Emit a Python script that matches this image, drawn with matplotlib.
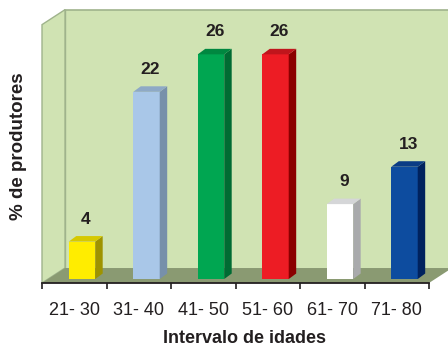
import matplotlib
matplotlib.use('Agg')
import matplotlib.pyplot as plt
from matplotlib.patches import Polygon

plt.rcParams['font.family'] = ['Liberation Sans', 'DejaVu Sans']

# Data: percentage of producers per age interval (23 producers)
categories = ['21- 30', '31- 40', '41- 50', '51- 60', '61- 70', '71- 80']
values = [4.35, 21.74, 26.09, 26.09, 8.70, 13.04]
labels = ['4', '22', '26', '26', '9', '13']

front_cols = ['#FFED00', '#A9C7E8', '#00A651', '#ED1C24', '#FFFFFF', '#0D4C9F']
side_cols = ['#9E9300', '#7790AA', '#006B33', '#8A0000', '#A9AAAC', '#00225E']
top_cols = ['#D6C900', '#8EA9C6', '#008740', '#C0151C', '#D5D6D8', '#0A3C85']

wall = '#D0E3B3'
floor = '#8A9A72'
edge = '#9FB38C'

# depth of the "room" and of each bar, in data units
DX, DY = 0.357, 1.74
BDX, BDY = 0.116, 0.64
BASE = 0.46
LEFT, WIDTH = -0.085, 0.41
YTOP = 30

fig = plt.figure(figsize=(4.48, 3.48), dpi=100)
ax = fig.add_axes([42 / 448, 65 / 348, 387 / 448, 273 / 348])
ax.set_xlim(-0.5, 5.5)
ax.set_ylim(0, 31.7)

x0, x1 = -0.5, 5.5
# back wall
ax.add_patch(Polygon([(x0 + DX, DY), (x1 + 0.5, DY), (x1 + 0.5, DY + YTOP), (x0 + DX, DY + YTOP)],
                     closed=True, fc=wall, ec='none', clip_on=False, zorder=1))
ax.plot([x0 + DX, x1 + 0.5], [DY + YTOP, DY + YTOP], color=edge, lw=1.2, clip_on=False, zorder=2)
ax.plot([x0 + DX, x0 + DX], [DY, DY + YTOP], color=edge, lw=1.0, clip_on=False, zorder=2)
# side wall
ax.add_patch(Polygon([(x0, 0), (x0 + DX, DY), (x0 + DX, DY + YTOP), (x0, YTOP)],
                     closed=True, fc=wall, ec=edge, lw=1.0, clip_on=False, zorder=2))
# floor
ax.add_patch(Polygon([(x0, 0), (x1, 0), (x1 + DX, DY), (x0 + DX, DY)],
                     closed=True, fc=floor, ec='none', clip_on=False, zorder=2))

for i, v in enumerate(values):
    l = i + LEFT
    r = l + WIDTH
    b = BASE
    t = BASE + v
    ax.add_patch(Polygon([(l, b), (r, b), (r, t), (l, t)], closed=True,
                         fc=front_cols[i], ec='none', zorder=5))
    ax.add_patch(Polygon([(r, b), (r + BDX, b + BDY), (r + BDX, t + BDY), (r, t)], closed=True,
                         fc=side_cols[i], ec='none', zorder=5))
    ax.add_patch(Polygon([(l, t), (r, t), (r + BDX, t + BDY), (l + BDX, t + BDY)], closed=True,
                         fc=top_cols[i], ec='none', zorder=5))
    ax.text(l + (WIDTH + BDX) / 2, t + 2.6, labels[i], ha='center', va='center',
            fontsize=12.5, fontweight='bold', color='#231F20', zorder=6)

for s in ['top', 'right', 'left']:
    ax.spines[s].set_visible(False)
ax.spines['bottom'].set_color('#231F20')
ax.spines['bottom'].set_linewidth(1.3)
ax.spines['bottom'].set_zorder(7)
ax.set_yticks([])
ax.set_xticks([k - 0.5 for k in range(len(categories) + 1)])
ax.set_xticklabels([])
ax.set_xticks(range(len(categories)), minor=True)
ax.set_xticklabels(categories, minor=True, fontsize=13, color='#231F20')
ax.tick_params(axis='x', which='major', length=4, width=1.2, color='#231F20', direction='out')
ax.tick_params(axis='x', which='minor', length=0, pad=14)
ax.set_facecolor('none')

ax.set_xlabel('Intervalo de idades', fontsize=13, fontweight='bold', color='#231F20', va='center')
ax.xaxis.set_label_coords(0.5245, -0.202)
ax.set_ylabel('% de produtores', fontsize=13.5, fontweight='bold', color='#231F20', va='center')
ax.yaxis.set_label_coords(-0.062, 0.502)

fig.savefig('out.png', dpi=100)
